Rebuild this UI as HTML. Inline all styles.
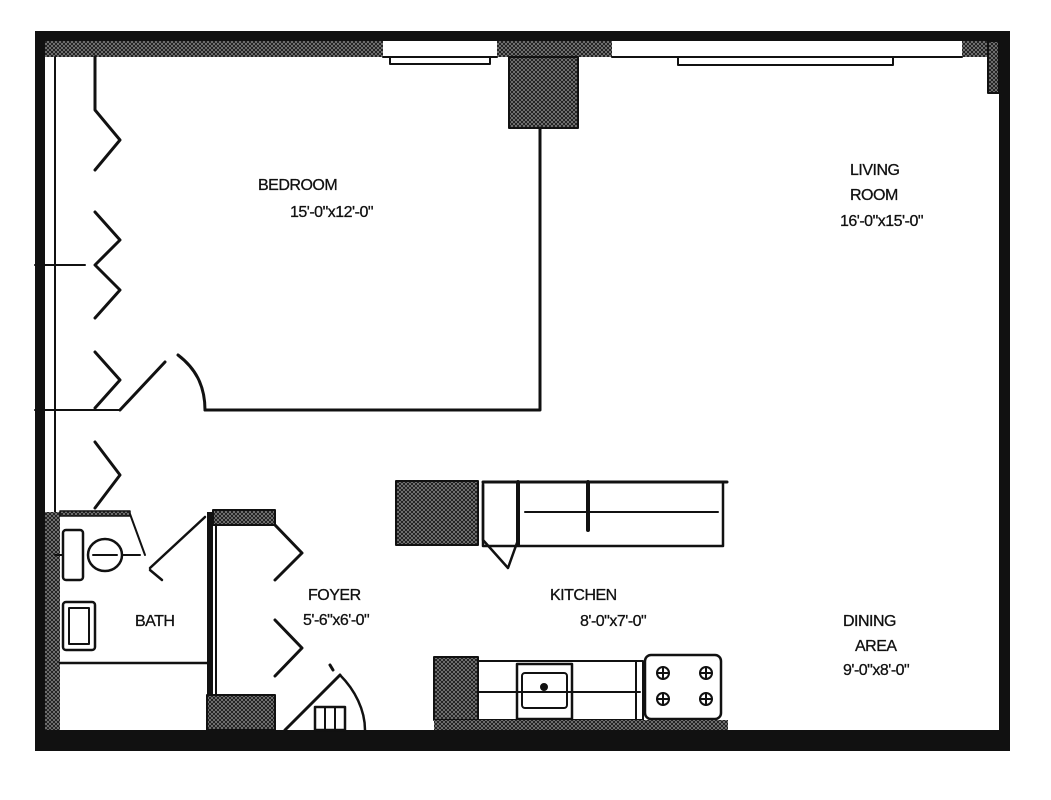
<!DOCTYPE html>
<html><head><meta charset="utf-8"><style>
html,body{margin:0;padding:0;background:#fff;}
svg{display:block}
text{font-family:"Liberation Sans",sans-serif;font-size:16px;fill:#111;letter-spacing:-0.5px;stroke:#111;stroke-width:0.3px;}
</style></head><body>
<svg width="1051" height="800" viewBox="0 0 1051 800" xmlns="http://www.w3.org/2000/svg">
<defs>
<pattern id="h" width="4" height="4" patternUnits="userSpaceOnUse">
<rect width="4" height="4" fill="#999"/>
<path d="M0 4L4 0M0 0L4 4" stroke="#222" stroke-width="1.2"/>
</pattern>
</defs>
<g fill="none" stroke="#111" stroke-width="3" stroke-linecap="round" stroke-linejoin="round">
<rect x="35" y="31" width="975" height="10" fill="#111" stroke="none"/>
<rect x="35" y="31" width="10" height="720" fill="#111" stroke="none"/>
<rect x="999" y="31" width="11" height="720" fill="#111" stroke="none"/>
<rect x="35" y="730" width="975" height="21" fill="#111" stroke="none"/>
<rect x="45" y="41" width="338" height="16" fill="url(#h)" stroke="none"/>
<rect x="497" y="41" width="115" height="16" fill="url(#h)" stroke="none"/>
<rect x="962" y="41" width="37" height="16" fill="url(#h)" stroke="none"/>
<rect x="988" y="41" width="11" height="52" fill="url(#h)" stroke-width="2"/>
<path d="M383 57H497M612 57H962" stroke-width="2"/>
<rect x="390" y="57" width="100" height="7" stroke-width="2"/>
<rect x="678" y="57" width="215" height="8" stroke-width="2"/>
<rect x="509" y="57" width="69" height="71" fill="url(#h)" stroke-width="2"/>
<path d="M540 128V410H205"/>
<path d="M205 410C205 385 195 368 178 355"/>
<path d="M120 410L165 362"/>
<path d="M55 57V730" stroke-width="2"/>
<path d="M35 265H85M35 410H120" stroke-width="2"/>
<path d="M95 57V110L120 140L95 170"/>
<path d="M95 212L120 240L95 265L120 290L95 318"/>
<path d="M95 352L120 380L95 408"/>
<path d="M95 442L120 475L95 508"/>
<rect x="45" y="512" width="15" height="218" fill="url(#h)" stroke="none"/>
<rect x="60" y="511" width="70" height="5" fill="url(#h)" stroke-width="1.5"/>
<path d="M130 514L145 555" stroke-width="2"/>
<rect x="63" y="530" width="20" height="50" rx="3" stroke-width="2.5"/>
<ellipse cx="105" cy="555" rx="17" ry="16" stroke-width="2.5"/>
<path d="M93 555H117M55 555H63M122 555H140" stroke-width="2"/>
<rect x="63" y="602" width="32" height="48" rx="3" stroke-width="2.5"/>
<rect x="69" y="608" width="20" height="36" stroke-width="2"/>
<path d="M60 663H207" stroke-width="2.5"/>
<path d="M150 568L205 517M150 570L162 580" stroke-width="2.5"/>
<rect x="207" y="512" width="6" height="218" fill="#111" stroke="none"/>
<rect x="213" y="510" width="62" height="15" fill="url(#h)" stroke-width="2"/>
<rect x="207" y="695" width="68" height="35" fill="url(#h)" stroke-width="2"/>
<path d="M216 525V695" stroke-width="2"/>
<path d="M275 525L302 553L275 580"/>
<path d="M275 620L302 648L275 676"/>
<path d="M285 730L340 675M330 665L333 670"/>
<path d="M340 675C355 690 365 710 365 730" stroke-width="2.5"/>
<rect x="315" y="707" width="30" height="23" stroke-width="2.5"/>
<path d="M325 707V730M335 707V730" stroke-width="2"/>
<rect x="396" y="481" width="82" height="64" fill="url(#h)" stroke-width="2"/>
<rect x="483" y="482" width="240" height="64" stroke-width="2.5"/>
<path d="M483 482H727" stroke-width="3"/>
<path d="M525 512H718" stroke-width="2"/>
<path d="M518 482V545M588 482V530" stroke-width="4"/>
<path d="M483 485V540L508 568L518 540" stroke-width="2.5"/>
<rect x="434" y="657" width="44" height="63" fill="url(#h)" stroke-width="2"/>
<rect x="478" y="661" width="165" height="59" stroke-width="2"/>
<path d="M478 692H640" stroke-width="2"/>
<rect x="517" y="664" width="55" height="55" stroke-width="2.5"/>
<rect x="522" y="673" width="45" height="35" rx="3" stroke-width="2"/>
<circle cx="544" cy="687" r="2.5" fill="#111"/>
<path d="M636 661V720" stroke-width="2"/>
<rect x="645" y="655" width="76" height="64" rx="6" stroke-width="2.5"/>
<g stroke-width="2">
<circle cx="663" cy="673" r="6"/><circle cx="706" cy="673" r="6"/>
<circle cx="663" cy="699" r="6"/><circle cx="706" cy="699" r="6"/>
<path d="M657 673h12M663 667v12M700 673h12M706 667v12M657 699h12M663 693v12M700 699h12M706 693v12"/>
</g>
<rect x="434" y="720" width="294" height="10" fill="url(#h)" stroke="none"/>
</g>
<text x="258" y="190">BEDROOM</text>
<text x="290" y="217">15'-0"x12'-0"</text>
<text x="850" y="175">LIVING</text>
<text x="850" y="200">ROOM</text>
<text x="840" y="226">16'-0"x15'-0"</text>
<text x="308" y="600">FOYER</text>
<text x="303" y="625">5'-6"x6'-0"</text>
<text x="550" y="600">KITCHEN</text>
<text x="580" y="626">8'-0"x7'-0"</text>
<text x="843" y="626">DINING</text>
<text x="855" y="651">AREA</text>
<text x="843" y="675">9'-0"x8'-0"</text>
<text x="135" y="626">BATH</text>
</svg>
</body></html>
